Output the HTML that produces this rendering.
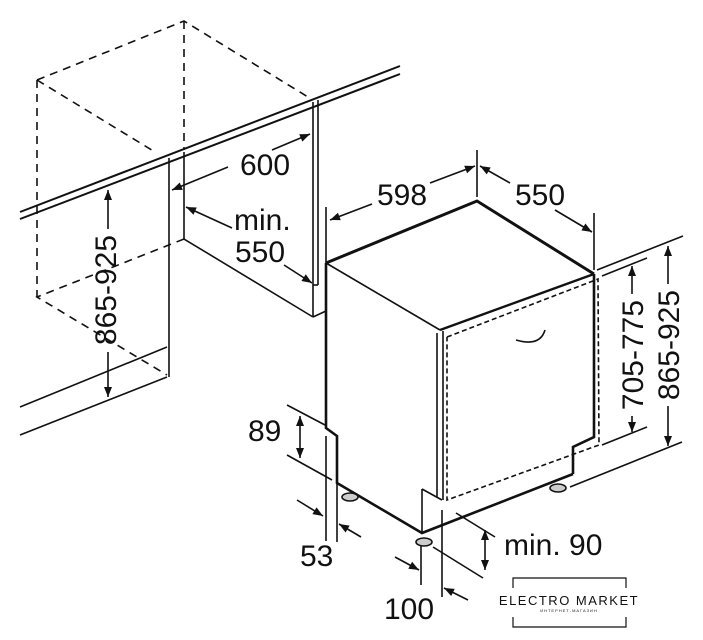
<!DOCTYPE html>
<html><head><meta charset="utf-8"><style>
html,body{margin:0;padding:0;background:#fff;}
svg{display:block;}
text{font-family:"Liberation Sans",Arial,sans-serif;font-size:30px;fill:#111;}
</style></head><body>
<svg width="703" height="640" viewBox="0 0 703 640" xmlns="http://www.w3.org/2000/svg">
<defs>
<marker id="a" viewBox="0 0 10 10" refX="10" refY="5" markerWidth="14" markerHeight="10" markerUnits="userSpaceOnUse" orient="auto-start-reverse">
<path d="M0,1 L10,5 L0,9 z" fill="#111"/></marker>
</defs>
<g stroke="#111" fill="none" stroke-width="1.6">
<g stroke-dasharray="8,6">
<path d="M37,80 L184,21 L308,97"/>
<path d="M184,21 L184,150"/>
<path d="M37,80 L37,297"/>
<path d="M37,80 L155,152"/>
<path d="M184,239 L37,297 L167,375"/>
</g>
<path d="M20,212 L400,66" stroke-width="2"/>
<path d="M20,219 L400,74" stroke-width="2"/>
<path d="M169,158 L169,377"/>
<path d="M184,152 L184,239 L313,317"/>
<path d="M20,407 L167,347"/>
<path d="M20,435 L167,377"/>
<path d="M313,102 L313,317"/>
<path d="M318,100 L318,285"/>
<path d="M313,285 L318,285"/>
<path d="M313,317 L326,311"/>
<path d="M108,229 L108,190" marker-end="url(#a)"/>
<path d="M108,352 L108,397" marker-end="url(#a)"/>
<path d="M228,167 L172,190" marker-end="url(#a)"/>
<path d="M272,150 L310,134" marker-end="url(#a)"/>
<path d="M232,228 L186,207" marker-end="url(#a)"/>
<path d="M284,265 L312,283" marker-end="url(#a)"/>
<path d="M326,263 L477,201 L594,274" stroke-width="3"/>
<path d="M326,263 L440,330"/>
<path d="M440,330 L594,274" stroke-width="2.4"/>
<path d="M594,274 L594,437 L573,447 L573,474" stroke-width="2.6"/>
<path d="M326,263 L326,428 L337,436 L337,483 L422,533 L573,474" stroke-width="2.6"/>
<path d="M437,333 L437,497"/>
<path d="M443,331 L443,500"/>
<path d="M422,489 L422,533"/>
<path d="M422,489 L442,500"/>
<g stroke-dasharray="5,3">
<path d="M447,337 L598,279 L599,445 L447,500 L447,337"/>
</g>
<path d="M516,340 Q540,347 545,330"/>
<ellipse cx="350" cy="497" rx="8" ry="4" fill="#ccc"/>
<ellipse cx="424" cy="542" rx="8" ry="4" fill="#ccc"/>
<ellipse cx="558" cy="488" rx="8" ry="4" fill="#ccc"/>
<path d="M326,207 L326,263"/>
<path d="M477,150 L477,197"/>
<path d="M594,213 L594,270"/>
<path d="M372,204 L330,220" marker-end="url(#a)"/>
<path d="M430,183 L475,166" marker-end="url(#a)"/>
<path d="M510,183 L480,166" marker-end="url(#a)"/>
<path d="M555,210 L592,232" marker-end="url(#a)"/>
<path d="M597,270 L683,236"/>
<path d="M602,276 L647,258"/>
<path d="M602,445 L647,427"/>
<path d="M570,487 L682,442"/>
<path d="M632,294 L632,266" marker-end="url(#a)"/>
<path d="M632,416 L632,432" marker-end="url(#a)"/>
<path d="M668,284 L668,246" marker-end="url(#a)"/>
<path d="M668,406 L668,446" marker-end="url(#a)"/>
<path d="M287,405 L325,425"/>
<path d="M287,455 L332,480"/>
<path d="M300,416 L300,458" marker-start="url(#a)" marker-end="url(#a)"/>
<path d="M326,436 L326,541"/>
<path d="M337,483 L337,542"/>
<path d="M297,500 L323,516" marker-end="url(#a)"/>
<path d="M361,537 L339,524" marker-end="url(#a)"/>
<path d="M421,546 L421,585"/>
<path d="M442,510 L442,597"/>
<path d="M395,557 L419,570" marker-end="url(#a)"/>
<path d="M468,600 L444,588" marker-end="url(#a)"/>
<path d="M456,513 L495,537"/>
<path d="M433,547 L483,578"/>
<path d="M485,530 L485,570" marker-start="url(#a)" marker-end="url(#a)"/>
<path d="M513,588 L513,578 L626,578 L626,588" stroke-width="1.2"/>
<path d="M513,617 L513,627 L626,627 L626,617" stroke-width="1.2"/>
</g>
<text x="240" y="175">600</text>
<text x="234" y="230">min.</text>
<text x="235" y="262">550</text>
<text x="116" y="290" transform="rotate(-90 116 290)" text-anchor="middle">865-925</text>
<text x="377" y="205">598</text>
<text x="515" y="205">550</text>
<text x="643" y="355" transform="rotate(-90 643 355)" text-anchor="middle">705-775</text>
<text x="679" y="345" transform="rotate(-90 679 345)" text-anchor="middle">865-925</text>
<text x="248" y="441">89</text>
<text x="300" y="566">53</text>
<text x="384" y="619">100</text>
<text x="504" y="555">min. 90</text>
<text x="569" y="605" style="font-size:13px;letter-spacing:1.5px" text-anchor="middle">ELECTRO MARKET</text>
<text x="569" y="612" style="font-size:4px;letter-spacing:1px" text-anchor="middle">ИНТЕРНЕТ-МАГАЗИН</text>
</svg>
</body></html>
